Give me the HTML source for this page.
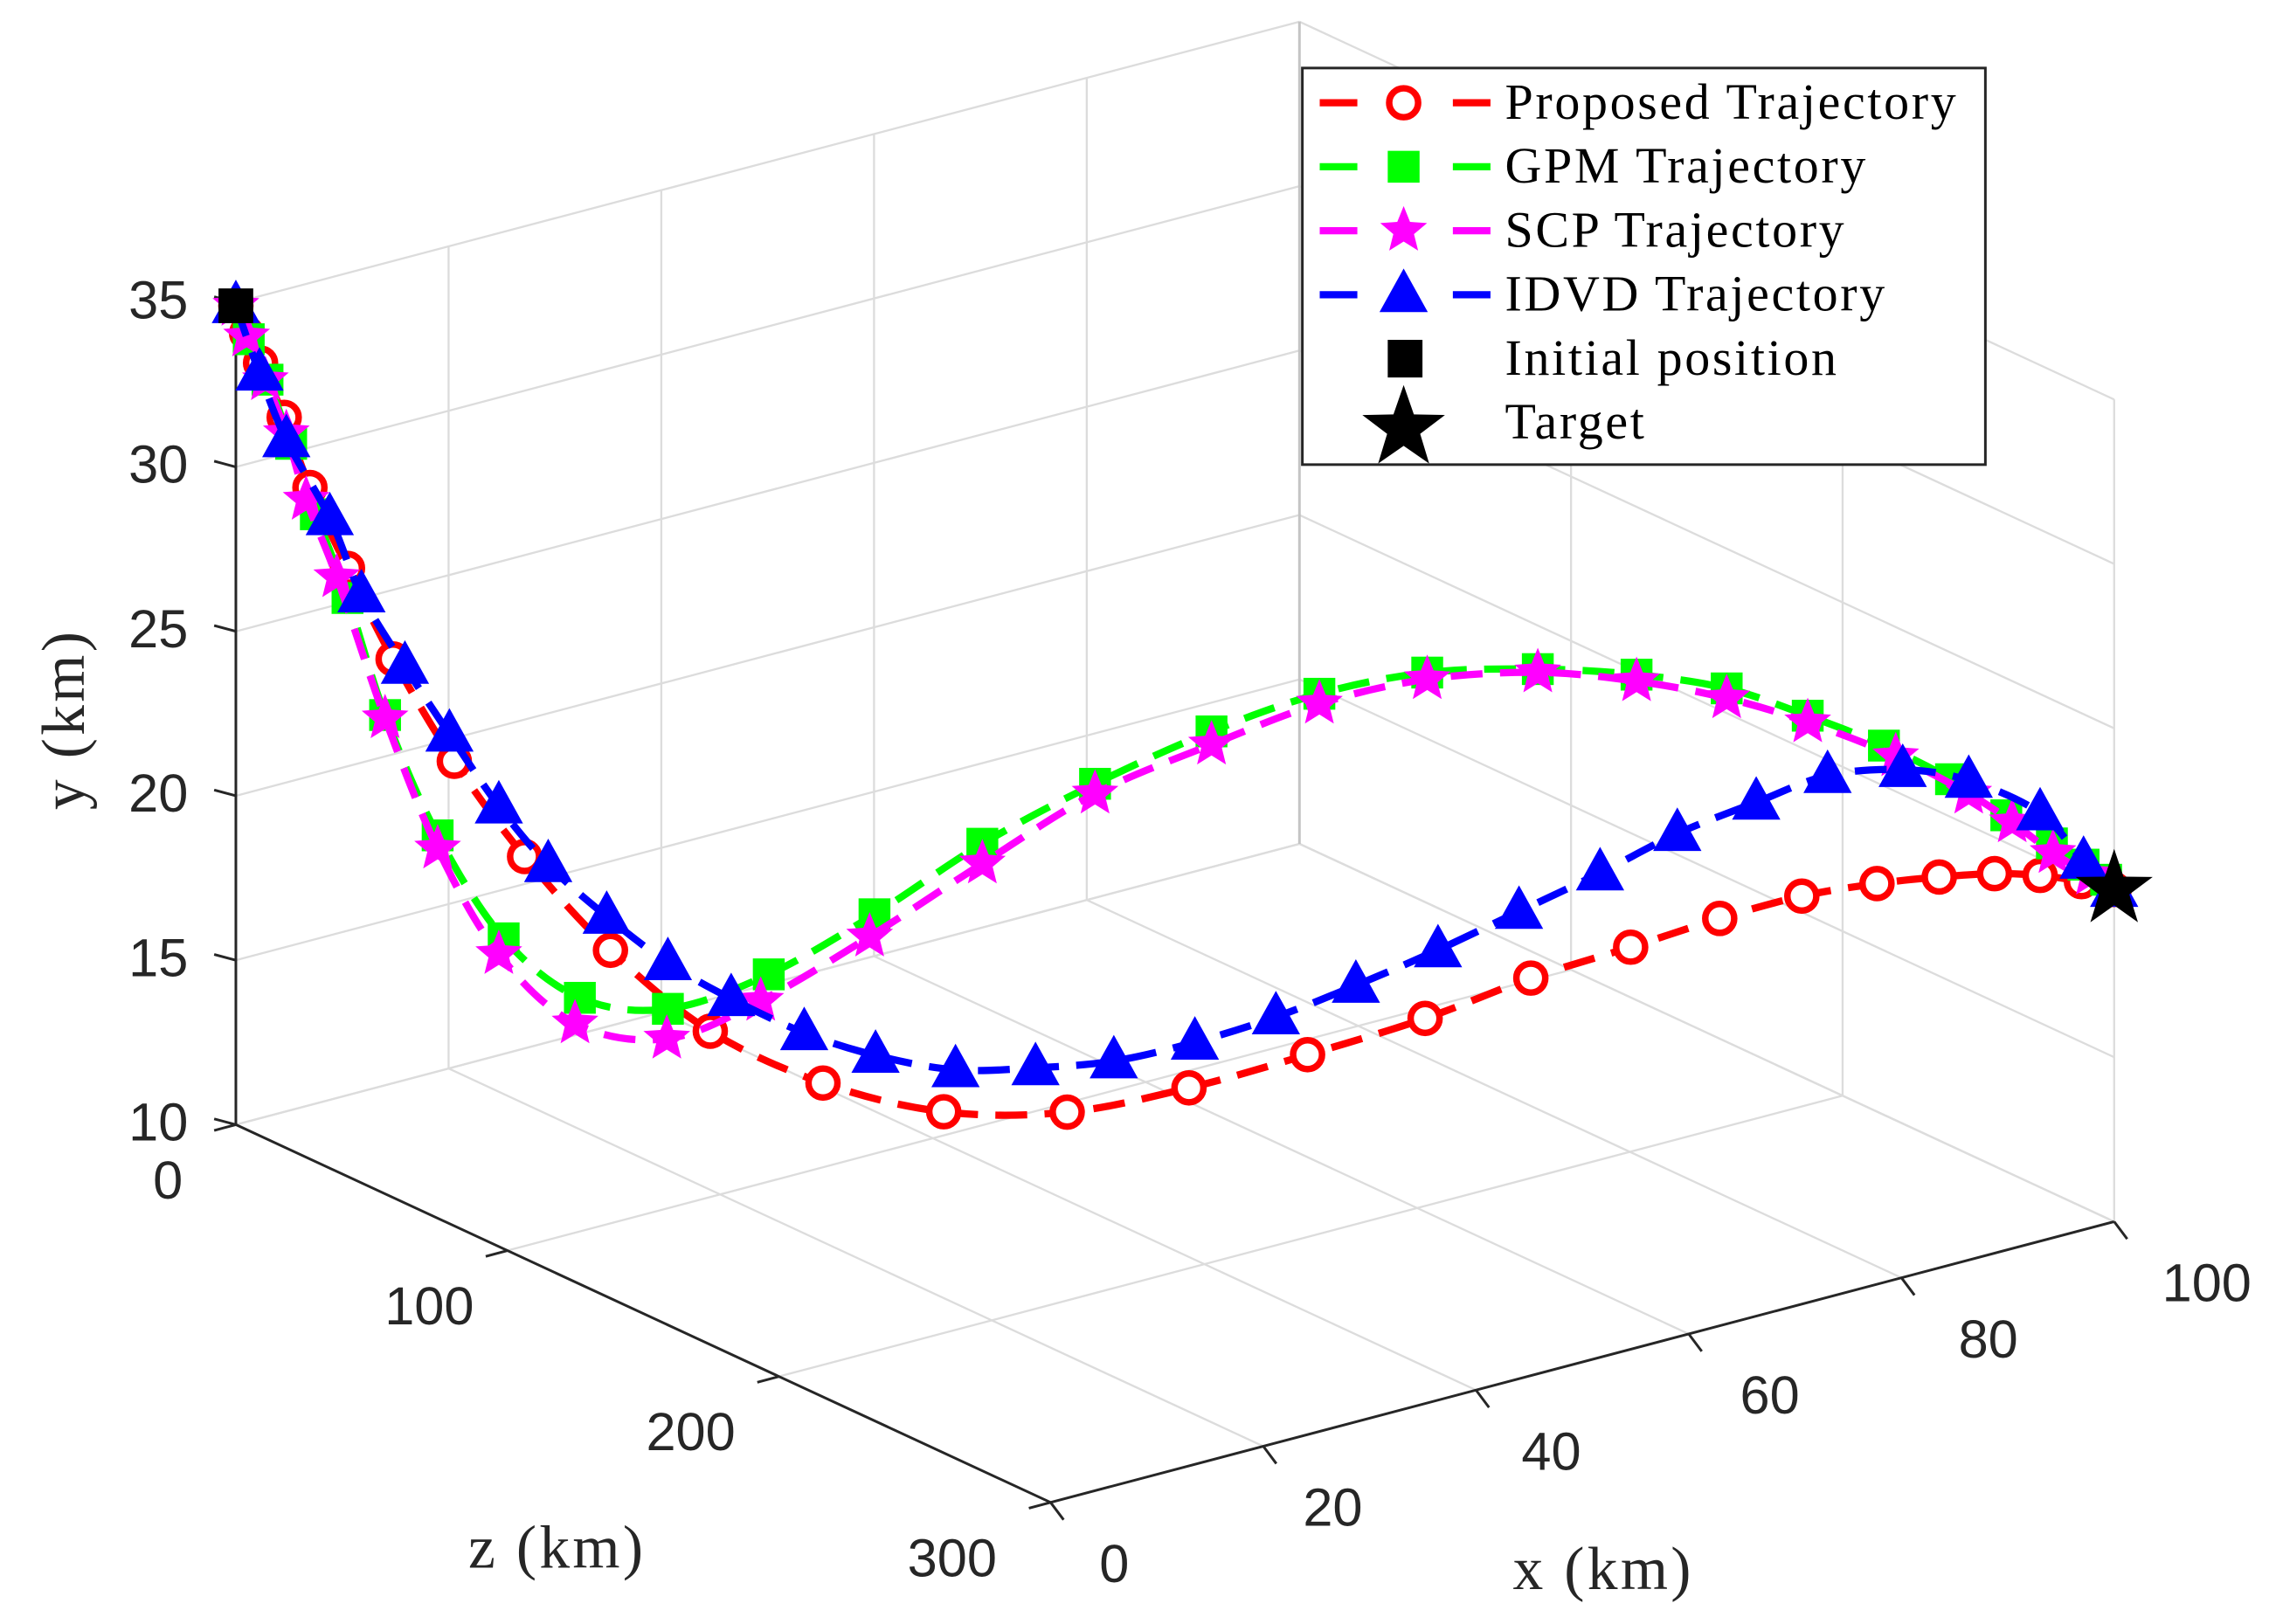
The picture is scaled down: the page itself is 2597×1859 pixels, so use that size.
<!DOCTYPE html>
<html><head><meta charset="utf-8"><style>
html,body{margin:0;padding:0;background:#fff;}
svg{display:block;}
</style></head><body>
<svg id="chart" width="2597" height="1859" viewBox="0 0 1568 1122" preserveAspectRatio="none" xmlns="http://www.w3.org/2000/svg">
<rect x="0" y="0" width="1568" height="1122" fill="#fff"/>
<g id="grid"></g>
<g id="axes"></g>
<g id="series"></g>
<g id="legend"></g>
</svg>
<script>
const xTicks = [0,20,40,60,80,100];
const zTicks = [0,100,200,300];
const yTicks = [10,15,20,25,30,35];

const propX = [0,0.5,1.3,2.5,3.9,5.9,8.4,11.6,15.4,19.9,25.2,31.2,37.7,44.2,50.8,57.1,63.3,68.9,74.2,79.0,83.4,87.4,90.7,93.6,96.1,98.2,100];
const propZ = [0,2,4,8,12,18,25,35,46,60,76,94,113,133,152,171,190,207,223,237,250,262,272,281,288,295,300];
const propY = [34.9,34.1,33.2,31.6,29.5,27.1,24.4,21.4,18.6,15.9,13.6,12.2,11.5,11.7,12.6,13.8,15.1,16.5,17.6,18.6,19.4,19.9,20.2,20.4,20.4,20.3,20.1];

const gpmX = [0,0.7,1.7,2.9,4.2,5.9,7.9,10.8,14.2,18.3,23.0,28.4,34.0,39.8,45.8,51.9,57.7,63.5,69.3,74.5,79.4,83.7,87.8,91.3,94.2,96.7,98.4,99.5];
const gpmZ = [0,2,5,9,13,18,24,32,43,55,69,85,102,119,137,156,173,190,208,224,238,251,263,274,283,290,295,299];
const gpmY = [34.9,33.9,32.7,30.8,28.7,26.2,22.7,19.1,16.1,14.4,14.2,15.4,17.4,19.7,21.7,23.5,24.8,25.6,25.9,25.9,25.6,24.9,24.1,23.2,22.2,21.4,20.8,20.4];

const scpX = [0,0.5,1.5,2.7,3.8,5.4,7.9,10.8,14.0,18.1,22.9,27.9,33.8,39.8,45.8,51.9,57.7,63.5,69.3,74.5,79.4,83.7,88.4,92.2,94.5,96.8,98.8];
const scpZ = [0,2,5,8,11,16,24,32,42,54,69,84,101,119,137,156,173,190,208,224,238,251,265,277,284,290,296];
const scpY = [34.9,34.0,32.7,31.1,29.1,26.8,22.6,18.7,15.6,13.6,13.3,14.6,16.7,19.1,21.4,23.1,24.5,25.4,25.8,25.7,25.3,24.7,23.8,22.8,22.0,21.1,20.5];

const idvdX = [0,1.2,2.7,5.0,6.7,9.0,11.4,14.0,16.6,19.8,23.0,26.4,30.2,34.1,38.3,42.5,46.8,51.1,55.4,59.6,64.0,68.3,72.6,76.8,80.9,84.8,88.8,92.2,96.1,98.4,100];
const idvdZ = [0,4,8,15,20,27,34,42,50,59,69,79,91,102,115,128,140,153,166,179,192,205,218,230,243,254,266,277,288,295,300];
const idvdY = [34.9,32.9,30.9,28.6,26.3,24.2,22.2,20.1,18.4,16.9,15.6,14.6,13.7,13.1,12.8,13.0,13.3,14.0,14.9,16.0,17.2,18.5,19.8,21.1,22.2,23.1,23.4,23.2,22.3,20.9,20.1];

const initialPos = [0,0,34.9];
const targetPos = [100,300,20.1];

const NS = 'http://www.w3.org/2000/svg';
const O = [163,777], EX = [735,-194], EZ = [563,261], EY = [0,-568];
function proj(x,z,y){
  const fx = x/100, fz = z/300, fy = (y-10)/25;
  return [O[0]+fx*EX[0]+fz*EZ[0]+fy*EY[0], O[1]+fx*EX[1]+fz*EZ[1]+fy*EY[1]];
}
function mk(tag, attrs, parent){
  const e = document.createElementNS(NS, tag);
  for (const k in attrs) e.setAttribute(k, attrs[k]);
  parent.appendChild(e);
  return e;
}
const grid = document.getElementById('grid');
const axes = document.getElementById('axes');
const series = document.getElementById('series');
const legend = document.getElementById('legend');

function gline(a,b,name){
  const l = mk('line',{x1:a[0],y1:a[1],x2:b[0],y2:b[1],stroke:'#dcdcdc','stroke-width':1.4},grid);
  
  
}
xTicks.forEach(x=>gline(proj(x,0,10),proj(x,300,10),'floor-grid-x'));
zTicks.forEach(z=>gline(proj(0,z,10),proj(100,z,10),'floor-grid-z'));
xTicks.forEach(x=>gline(proj(x,0,10),proj(x,0,35),'back-wall-grid-x'));
yTicks.forEach(y=>gline(proj(0,0,y),proj(100,0,y),'back-wall-grid-y'));
zTicks.forEach(z=>gline(proj(100,z,10),proj(100,z,35),'side-wall-grid-z'));
yTicks.forEach(y=>gline(proj(100,0,y),proj(100,300,y),'side-wall-grid-y'));
(function(){const l=mk('line',{x1:proj(100,0,10)[0],y1:proj(100,0,10)[1],x2:proj(100,0,35)[0],y2:proj(100,0,35)[1],stroke:'#c4c4c4','stroke-width':1.8},grid);

})();

function aline(a,b,name){
  const l = mk('line',{x1:a[0],y1:a[1],x2:b[0],y2:b[1],stroke:'#262626','stroke-width':1.8},axes);
  
  
}
function text(str,x,y,opts,name){
  const t = mk('text',Object.assign({x:x,y:y,fill:'#262626'},opts),axes);
  t.textContent = str;
  
  
  return t;
}
aline(proj(0,0,10),proj(0,0,35),'y-axis-line');
aline(proj(0,0,10),proj(0,300,10),'z-axis-line');
aline(proj(0,300,10),proj(100,300,10),'x-axis-line');
const sans = {'font-family':'"Liberation Sans", sans-serif','font-size':37};
yTicks.forEach(y=>{
  const p = proj(0,0,y);
  aline(p,[p[0]-15,p[1]-4],'y-tick');
  text(String(y), 130, p[1]+11, Object.assign({'text-anchor':'end'},sans),'y-tick-label');
});
zTicks.forEach(z=>{
  const p = proj(0,z,10);
  aline(p,[p[0]-15,p[1]+4],'z-tick');
  text(String(z), p[0]-47-z*0.07, p[1]+51, Object.assign({'text-anchor':'middle'},sans),'z-tick-label');
});
xTicks.forEach(x=>{
  const p = proj(x,300,10);
  aline(p,[p[0]+9,p[1]+12],'x-tick');
  text(String(x), p[0]+44+x*0.2, p[1]+55, Object.assign({'text-anchor':'middle'},sans),'x-tick-label');
});
const serif = {'font-family':'"Liberation Serif", serif','font-size':42,'letter-spacing':2};
text('x (km)',1108,1098,Object.assign({'text-anchor':'middle'},serif),'x-axis-title');
text('z (km)',385,1083,Object.assign({'text-anchor':'middle'},serif),'z-axis-title');
text('y (km)',0,0,Object.assign({'text-anchor':'middle',transform:'translate(58,497) rotate(-90)'},serif),'y-axis-title');

function smoothPath(pts){
  let d = 'M'+pts[0][0]+','+pts[0][1];
  for (let i=0;i<pts.length-1;i++){
    const p0=pts[Math.max(0,i-1)],p1=pts[i],p2=pts[i+1],p3=pts[Math.min(pts.length-1,i+2)];
    const c1=[p1[0]+(p2[0]-p0[0])/6,p1[1]+(p2[1]-p0[1])/6];
    const c2=[p2[0]-(p3[0]-p1[0])/6,p2[1]-(p3[1]-p1[1])/6];
    d += ' C'+c1[0]+','+c1[1]+' '+c2[0]+','+c2[1]+' '+p2[0]+','+p2[1];
  }
  return d;
}
function starPts(cx,cy,R,r){
  let s='';
  for(let i=0;i<10;i++){const a=-Math.PI/2+i*Math.PI/5;const rr=i%2?r:R;s+=(cx+rr*Math.cos(a))+','+(cy+rr*Math.sin(a))+' ';}
  return s;
}
function marker(type,p,color,parent,name){
  let e;
  if(type==='circle') e=mk('circle',{cx:p[0],cy:p[1],r:10,fill:'#fff',stroke:color,'stroke-width':4.5},parent);
  else if(type==='square') e=mk('rect',{x:p[0]-10,y:p[1]-10,width:20,height:20,fill:color,stroke:color,'stroke-width':2},parent);
  else if(type==='star') e=mk('polygon',{points:starPts(p[0],p[1],17,7.5),fill:color},parent);
  else if(type==='triangle') e=mk('polygon',{points:(p[0])+','+(p[1]-16)+' '+(p[0]-15)+','+(p[1]+11)+' '+(p[0]+15)+','+(p[1]+11),fill:color,stroke:color,'stroke-width':2},parent);
  
  
}
function drawSeries(xs,zs,ys,color,type,name){
  const g = mk('g',{},series);
  
  
  const pts = xs.map((x,i)=>proj(x,zs[i],ys[i]));
  const path = mk('path',{d:smoothPath(pts),fill:'none',stroke:color,'stroke-width':5,'stroke-dasharray':'22 12'},g);
  
  
  pts.forEach(p=>marker(type,p,color,g,name+'-marker'));
}
drawSeries(propX,propZ,propY,'#ff0000','circle','proposed');
drawSeries(gpmX,gpmZ,gpmY,'#00ff00','square','gpm');
drawSeries(scpX,scpZ,scpY,'#ff00ff','star','scp');
drawSeries(idvdX,idvdZ,idvdY,'#0000ff','triangle','idvd');
(function(){
  const p = proj(initialPos[0],initialPos[1],initialPos[2]);
  const r = mk('rect',{x:p[0]-12,y:p[1]-12,width:24,height:24,fill:'#000'},series);
  
  
  const t = proj(targetPos[0],targetPos[1],targetPos[2]);
  const s = mk('polygon',{points:starPts(t[0],t[1],28,11),fill:'#000'},series);
  
  
})();

(function(){
  const box = mk('rect',{x:900,y:47,width:472,height:274,fill:'#fff',stroke:'#262626','stroke-width':1.8},legend);
  
  
  const items = [
    ['Proposed Trajectory','#ff0000','circle'],
    ['GPM Trajectory','#00ff00','square'],
    ['SCP Trajectory','#ff00ff','star'],
    ['IDVD Trajectory','#0000ff','triangle'],
    ['Initial position','#000','init'],
    ['Target','#000','target']
  ];
  items.forEach((it,i)=>{
    const y = 71 + i*44.2;
    const g = mk('g',{},legend);
    
    
    if(i<4){
      mk('line',{x1:912,y1:y,x2:938,y2:y,stroke:it[1],'stroke-width':5},g);
      mk('line',{x1:1004,y1:y,x2:1030,y2:y,stroke:it[1],'stroke-width':5},g);
      marker(it[2],[970,y],it[1],g,'legend-marker');
    } else if(it[2]==='init'){
      const r=mk('rect',{x:959,y:y-13,width:24,height:26,fill:'#000'},g);
      
      
    } else {
      const s=mk('polygon',{points:starPts(970,y+4,30,12),fill:'#000'},g);
      
      
    }
    const t = mk('text',{x:1040,y:y+11,fill:'#000','font-family':'"Liberation Serif", serif','font-size':35,'letter-spacing':1.6},g);
    t.textContent = it[0];
    
    
  });
})();
</script>
</body></html>
